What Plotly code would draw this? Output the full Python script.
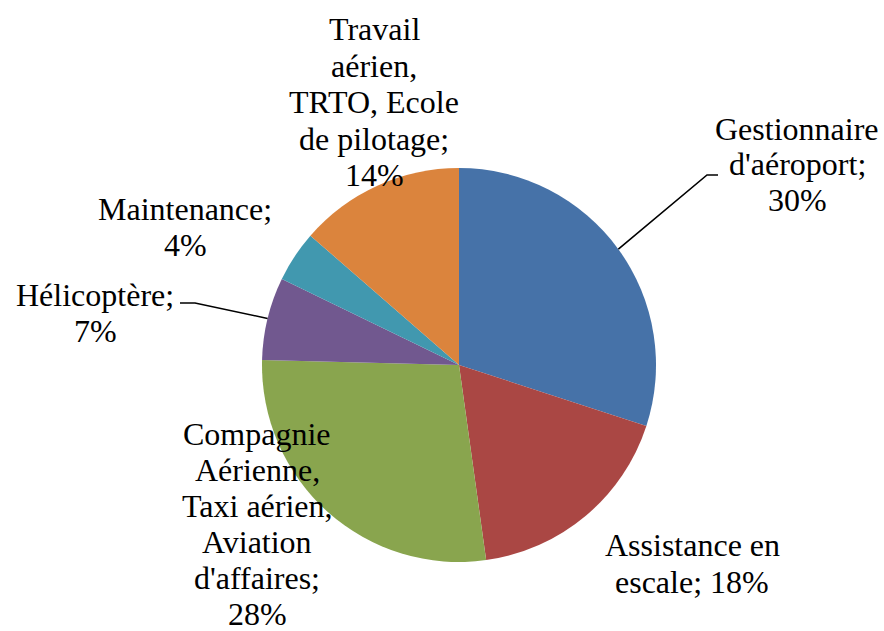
import math
import plotly.graph_objects as go

# ---- data ----
categories = [
    "Gestionnaire d'aéroport",
    "Assistance en escale",
    "Compagnie Aérienne, Taxi aérien, Aviation d'affaires",
    "Hélicoptère",
    "Maintenance",
    "Travail aérien, TRTO, Ecole de pilotage",
]
values = [30.0, 17.8, 27.6, 6.8, 4.2, 13.6]
colors = ["#4672A8", "#AA4744", "#89A54E", "#71588F", "#4198AF", "#DB843D"]
label_lines = [
    ["Gestionnaire", "d'aéroport;", "{pct}"],
    ["Assistance en", "escale; {pct}"],
    ["Compagnie", "Aérienne,", "Taxi aérien,", "Aviation", "d'affaires;", "{pct}"],
    ["Hélicoptère;", "{pct}"],
    ["Maintenance;", "{pct}"],
    ["Travail", "aérien,", "TRTO, Ecole", "de pilotage;", "{pct}"],
]

# ---- layout constants (pixels) ----
W, H = 884, 631
CX, CY, R = 459, 365, 197
# label block: (center x, first baseline y, line spacing)
label_pos = [
    (797, 140, 35.5),
    (692, 556, 37),
    (257, 445, 36),
    (95, 306, 36),
    (185, 220, 36),
    (374, 40, 36.5),
]
# leader lines: (index, elbow point, end point)
leaders = [
    (0, (707, 175), (718, 175)),
    (3, (195, 303), (180, 303)),
]
FONT = "Liberation Serif"
FS = 32


def px(x):
    return x / W


def py(y):
    return 1 - y / H


total = sum(values)
fig = go.Figure(
    go.Pie(
        labels=categories,
        values=values,
        marker=dict(colors=colors, line=dict(width=0)),
        sort=False,
        direction="clockwise",
        rotation=0,
        textinfo="none",
        hoverinfo="label+percent",
        showlegend=False,
        domain=dict(x=[px(CX - R), px(CX + R)], y=[py(CY + R), py(CY - R)]),
    )
)

annotations = []
for i, lines in enumerate(label_lines):
    pct = f"{round(values[i] / total * 100)}%"
    cx, by, sp = label_pos[i]
    for j, ln in enumerate(lines):
        base = by + j * sp
        annotations.append(
            dict(
                x=px(cx), y=py(base - 11), xref="paper", yref="paper",
                text=ln.format(pct=pct), showarrow=False,
                xanchor="center", yanchor="middle",
                font=dict(family=FONT, size=FS, color="#000000"),
            )
        )

shapes = []
cum = 0
mids = []
for v in values:
    mids.append((cum + v / 2) / total * 2 * math.pi)
    cum += v
for idx, elbow, end in leaders:
    a = mids[idx]
    sx = CX + R * math.sin(a)
    sy = CY - R * math.cos(a)
    path = f"M {px(sx)},{py(sy)} L {px(elbow[0])},{py(elbow[1])} L {px(end[0])},{py(end[1])}"
    shapes.append(dict(type="path", xref="paper", yref="paper", path=path,
                       line=dict(color="#000000", width=1.6)))

fig.update_layout(
    width=W, height=H,
    margin=dict(l=0, r=0, t=0, b=0),
    paper_bgcolor="white", plot_bgcolor="white",
    annotations=annotations,
    shapes=shapes,
)
fig.write_html(
    "out.html",
    config={"displayModeBar": False},
    post_script="document.body.style.margin='0';document.body.style.overflow='hidden';",
)
